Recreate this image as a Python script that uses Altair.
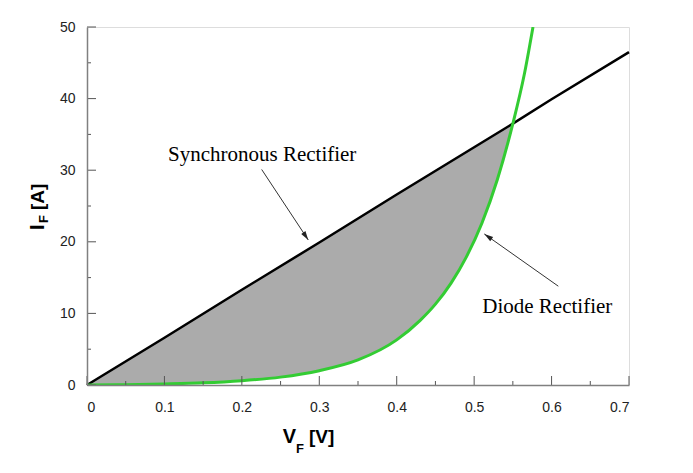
import altair as alt
import pandas as pd

# ---- data ----
V_SYNC = [0.0, 0.1, 0.2, 0.3, 0.4, 0.5, 0.55, 0.6, 0.7]
I_SYNC = [0.0, 6.6, 13.3, 19.9, 26.6, 33.2, 36.5, 39.9, 46.5]

V_DIODE = [0.0, 0.05, 0.1, 0.15, 0.2, 0.25, 0.3, 0.35, 0.4, 0.43, 0.45, 0.47,
           0.49, 0.51, 0.53, 0.55, 0.565, 0.576]
I_DIODE = [0.0, 0.05, 0.15, 0.3, 0.6, 1.1, 2.0, 3.5, 6.3, 9.0, 11.3, 14.2,
           17.9, 22.6, 28.7, 36.5, 43.5, 50.0]

X_TICKS = [0.0, 0.1, 0.2, 0.3, 0.4, 0.5, 0.6, 0.7]
X_MINOR = [0.05, 0.15, 0.25, 0.35, 0.45, 0.55, 0.65]
Y_TICKS = [0, 10, 20, 30, 40, 50]
Y_MINOR = [5, 15, 25, 35, 45]

LABELS = ["Synchronous Rectifier", "Diode Rectifier"]
LABEL_V = [0.1046, 0.5105]
LABEL_I = [31.3, 10.0]

ARROW_V1 = [0.2256, 0.6087]
ARROW_I1 = [30.1, 13.8]
ARROW_V2 = [0.2858, 0.5131]
ARROW_I2 = [20.25, 21.1]
ARROW_ANGLE = [146.6, 305.1]

W, H = 542, 358
FILL_LIMIT = 0.55      # crossing of the two curves
COVER_LIMIT = 0.565    # white cover slightly past the crossing hides the seam

sync_df = pd.DataFrame({"V": V_SYNC, "I": I_SYNC})
diode_df = pd.DataFrame({"V": V_DIODE, "I": I_DIODE})
labels_df = pd.DataFrame({"V": LABEL_V, "I": LABEL_I, "t": LABELS})
arrows_df = pd.DataFrame({"V": ARROW_V1, "I": ARROW_I1, "V2": ARROW_V2,
                          "I2": ARROW_I2, "ang": ARROW_ANGLE})

LABEL_FONT = "Liberation Sans Narrow, Arial Narrow, Liberation Sans, Arial"
TITLE_FONT = "Liberation Sans, Arial"
SERIF = "Liberation Serif, Times New Roman"

xs = alt.Scale(domain=[0, 0.7], nice=False, zero=False)
ys = alt.Scale(domain=[0, 50], nice=False, zero=False)

xaxis = alt.Axis(title=None, values=X_TICKS, format="~g", ticks=False, tickSize=0,
                 domainColor="#808080", domainWidth=1.5, labelPadding=15,
                 labelFont=LABEL_FONT, labelFontSize=14, labelColor="#222222",
                 grid=False, zindex=1)
yaxis = alt.Axis(title=None, values=Y_TICKS, format="d", ticks=False, tickSize=0,
                 domainColor="#808080", domainWidth=1.5, labelPadding=12,
                 labelFont=LABEL_FONT, labelFontSize=14, labelColor="#222222",
                 grid=False, zindex=1)

X = alt.X("V:Q", scale=xs, axis=xaxis)
Y = alt.Y("I:Q", scale=ys, axis=yaxis)

gray = alt.Chart(sync_df).transform_filter(f"datum.V <= {FILL_LIMIT}").mark_area(
    color="#ababab", opacity=1).encode(x=X, y=Y)
white = alt.Chart(diode_df).transform_filter(f"datum.V <= {COVER_LIMIT}").mark_area(
    color="white", opacity=1, interpolate="monotone").encode(x=X, y=Y)
sync_line = alt.Chart(sync_df).mark_line(color="black", strokeWidth=2.5).encode(x=X, y=Y)
diode_line = alt.Chart(diode_df).mark_line(color="#33cc33", strokeWidth=3,
                                           interpolate="monotone", clip=True).encode(x=X, y=Y)

xt_major = alt.Chart(pd.DataFrame({"V": X_TICKS})).mark_rule(color="#555555", strokeWidth=1).encode(
    x=X, y=alt.value(H), y2=alt.value(H - 9))
xt_minor = alt.Chart(pd.DataFrame({"V": X_MINOR})).mark_rule(color="#555555", strokeWidth=1).encode(
    x=X, y=alt.value(H), y2=alt.value(H - 4))
yt_major = alt.Chart(pd.DataFrame({"I": Y_TICKS})).mark_rule(color="#555555", strokeWidth=1).encode(
    y=Y, x=alt.value(0), x2=alt.value(9))
yt_minor = alt.Chart(pd.DataFrame({"I": Y_MINOR})).mark_rule(color="#555555", strokeWidth=1).encode(
    y=Y, x=alt.value(0), x2=alt.value(4))

ann = alt.Chart(labels_df).mark_text(font=SERIF, fontSize=21, align="left",
                                     baseline="alphabetic", color="black").encode(
    x=X, y=Y, text="t:N")

arrow_lines = alt.Chart(arrows_df).mark_rule(color="#333333", strokeWidth=1).encode(
    x=X, y=Y, x2="V2:Q", y2="I2:Q")
arrow_heads = alt.Chart(arrows_df).mark_point(
    shape="M0,0 L0.28,1 L-0.28,1 Z", filled=True, size=324, color="#222222", opacity=1).encode(
    x=alt.X("V2:Q", scale=xs, axis=xaxis), y=alt.Y("I2:Q", scale=ys, axis=yaxis),
    angle=alt.Angle("ang:Q", scale=None))

one = alt.Data(values=[{"k": 1}])


def txt(s, x, y, size, angle=0):
    kw = dict(text=s, font=TITLE_FONT, fontSize=size, fontWeight="bold",
              align="left", baseline="alphabetic", color="black")
    if angle:
        kw["angle"] = angle
    return alt.Chart(one).mark_text(**kw).encode(x=alt.value(x), y=alt.value(y))


titles = [
    txt("V", 195.7, 416, 20),
    txt("F", 209, 426, 13),
    txt("[V]", 222, 416, 19),
    txt("I", -43, 203, 20, 270),
    txt("F", -39, 196, 13, 270),
    txt("[A]", -43, 183, 19, 270),
]

chart = alt.layer(
    gray, white, sync_line, diode_line,
    xt_major, xt_minor, yt_major, yt_minor,
    arrow_lines, arrow_heads, ann, *titles
).properties(
    width=W, height=H,
    autosize=alt.AutoSizeParams(type="none"),
    padding={"left": 79, "top": 19, "right": 40, "bottom": 70},
).configure_view(
    stroke="#808080", strokeWidth=1.5
).configure(background="white")

chart.save("out.html", embed_options={"renderer": "svg", "actions": False})
